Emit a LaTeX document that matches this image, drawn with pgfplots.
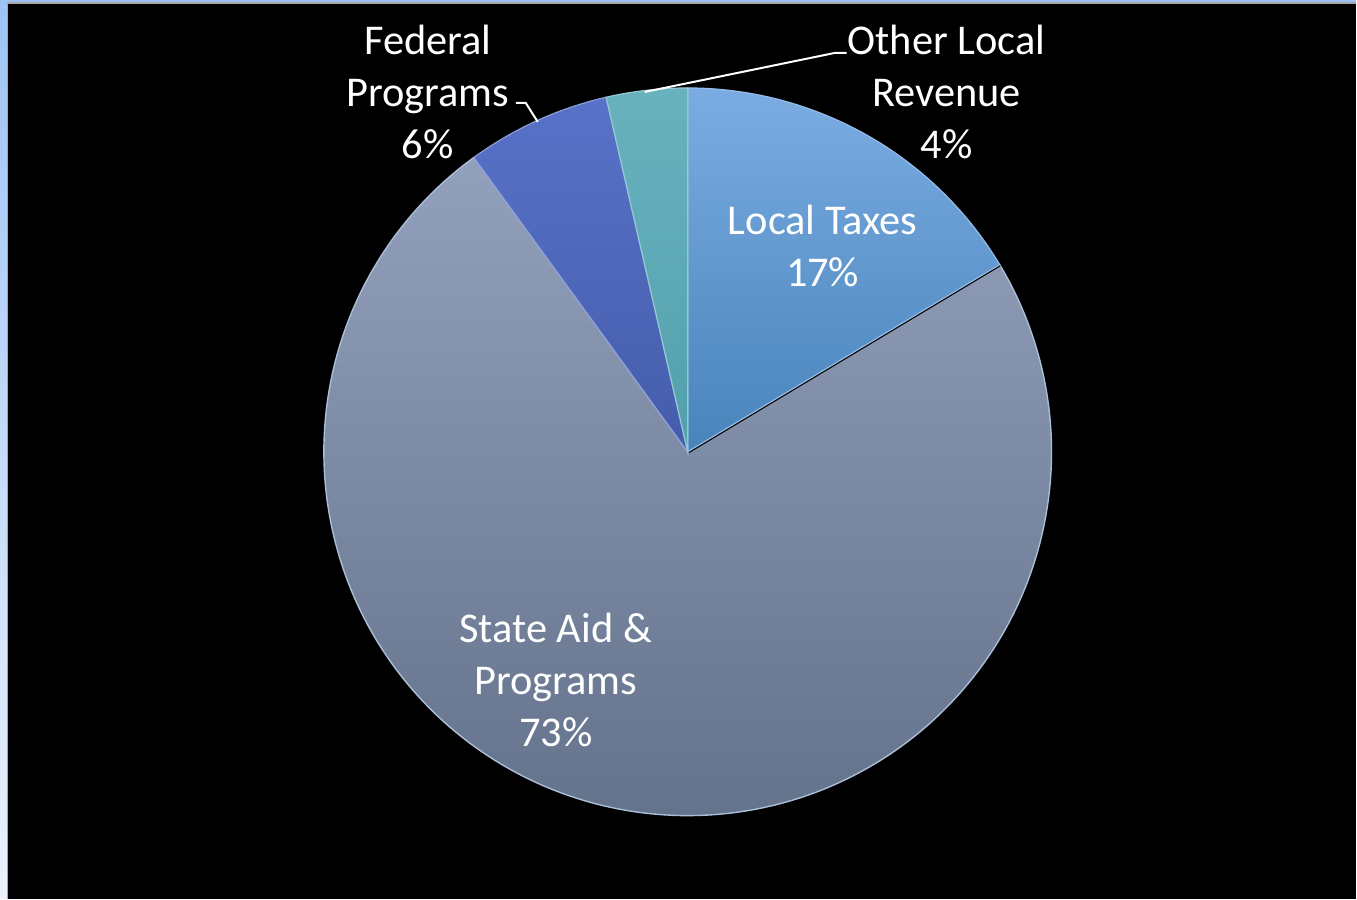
\documentclass[border=0pt]{standalone}
\usepackage{pgfplots}
\pgfplotsset{compat=1.18}
\usepackage{fontspec}
\setmainfont{Carlito}
\definecolor{bordblue}{RGB}{157,195,245}
\definecolor{bordwhite}{RGB}{235,242,252}
\definecolor{stateT}{RGB}{146,160,187}
\definecolor{stateB}{RGB}{100,114,140}
\definecolor{localT}{RGB}{122,172,226}
\definecolor{localB}{RGB}{72,132,186}
\definecolor{fedT}{RGB}{88,114,200}
\definecolor{fedB}{RGB}{68,92,170}
\definecolor{otherT}{RGB}{104,178,190}
\definecolor{otherB}{RGB}{82,160,172}
\definecolor{edge}{RGB}{170,190,215}
% data (percent)
\def\vLocal{16.4}
\def\vState{73.6}
\def\vFed{6.4}
\def\vOther{3.6}
\pgfmathsetmacro{\aA}{90}
\pgfmathsetmacro{\aB}{90-3.6*\vLocal}
\pgfmathsetmacro{\aC}{\aB-3.6*\vState}
\pgfmathsetmacro{\aD}{\aC-3.6*\vFed}
\pgfmathsetmacro{\aCp}{\aC+360}
\pgfmathsetmacro{\aDp}{\aD+360}
\def\cx{688}
\def\cy{447}
\def\R{364}
\tikzset{lbl/.style={font=\fontsize{21.2}{26}\selectfont, text=white, align=center, inner sep=0pt}}
\begin{document}
\begin{tikzpicture}
\begin{axis}[
  scale only axis, width=678.5pt, height=449.5pt,
  xmin=0, xmax=1357, ymin=0, ymax=899,
  hide axis, clip=false,
]
% background
\fill[bordblue] (axis cs:0,0) rectangle (axis cs:1357,899);
\shade[top color=bordblue, bottom color=bordwhite] (axis cs:0,0) rectangle (axis cs:7,899);
\fill[black] (axis cs:7,0) rectangle (axis cs:1357,896);
\draw[gray!70, line width=0.6pt] (axis cs:7.5,0) -- (axis cs:7.5,896) -- (axis cs:1357,896);
% State Aid & Programs
\addplot[top color=stateT, bottom color=stateB, draw=edge, line width=0.7pt, domain=\aC:\aB, samples=181]
  ({\cx+\R*cos(x)},{\cy+\R*sin(x)}) -- (axis cs:\cx,\cy) -- cycle;
% shadow line
\addplot[black, line width=1.8pt] coordinates {(\cx,\cy) ({\cx+\R*cos(\aB)},{\cy+\R*sin(\aB)})};
% Local Taxes
\addplot[top color=localT, bottom color=localB, draw=localT!80!white, line width=0.6pt, domain=\aB:\aA, samples=61]
  ({\cx+\R*cos(x)},{\cy+\R*sin(x)}) -- (axis cs:\cx,\cy) -- cycle;
% Federal Programs
\addplot[top color=fedT, bottom color=fedB, draw=fedT!70!white, line width=0.6pt, domain=\aDp:\aCp, samples=31]
  ({\cx+\R*cos(x)},{\cy+\R*sin(x)}) -- (axis cs:\cx,\cy) -- cycle;
% Other Local Revenue
\addplot[top color=otherT, bottom color=otherB, draw=otherT!70!white, line width=0.6pt, domain=\aA:\aDp, samples=21]
  ({\cx+\R*cos(x)},{\cy+\R*sin(x)}) -- (axis cs:\cx,\cy) -- cycle;
% leader lines
\addplot[white, line width=1pt] coordinates {(516,796) (526,796) (538,777)};
\addplot[white, line width=1pt] coordinates {(645,807) (835,846) (847,846)};
% labels
\node[lbl] at (axis cs:428,807) {Federal\\Programs\\6\%};
\node[lbl] at (axis cs:947,807) {Other Local\\Revenue\\4\%};
\node[lbl] at (axis cs:823,653) {Local Taxes\\17\%};
\node[lbl] at (axis cs:556,219) {State Aid \&\\Programs\\73\%};
\end{axis}
\end{tikzpicture}
\end{document}
